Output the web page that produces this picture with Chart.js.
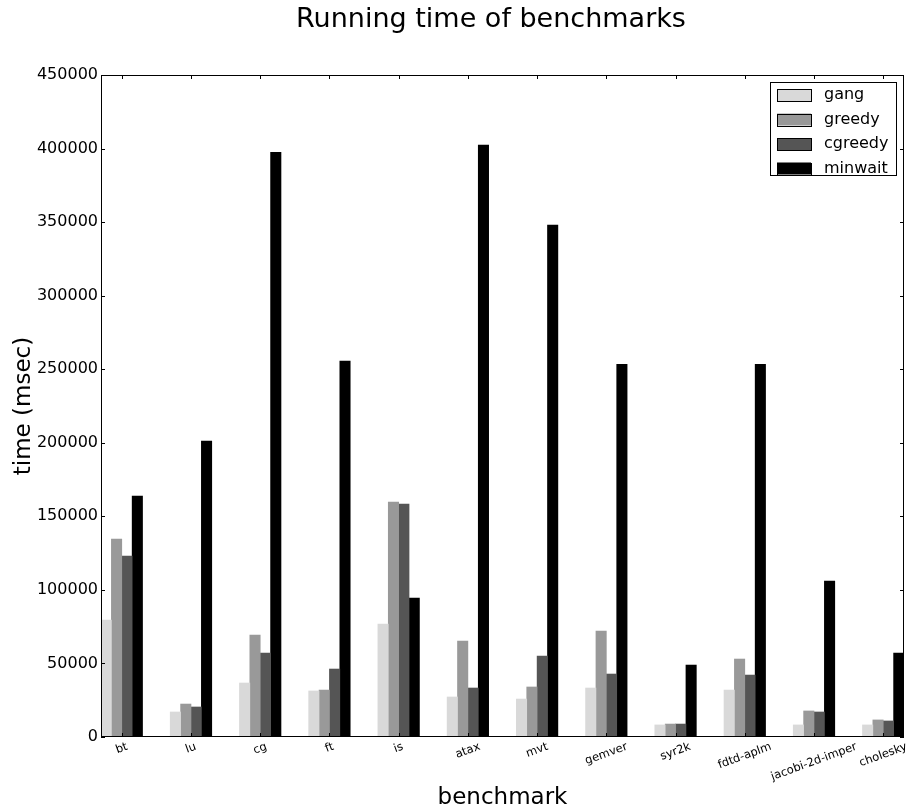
<!DOCTYPE html>
<html>
<head>
<meta charset="utf-8">
<title>Running time of benchmarks</title>
<script src="https://cdn.jsdelivr.net/npm/chart.js@4.4.1/dist/chart.umd.min.js"></script>
<style>
    html, body { margin: 0; padding: 0; background: #fff; }
    canvas { display: block; }
</style>
</head>
<body>
<canvas id="runtime-chart" width="907" height="810"></canvas>
<script>
const benchmarks = ['bt', 'lu', 'cg', 'ft', 'is', 'atax', 'mvt', 'gemver', 'syr2k', 'fdtd-aplm', 'jacobi-2d-imper', 'cholesky'];

// running time in msec per scheduler
const gang    = [79500, 17000, 36700, 31300, 76800, 27200, 25800, 33300, 8200, 31900, 8200, 8200];
const greedy  = [134500, 22400, 69300, 31900, 159700, 65200, 34000, 72000, 8800, 53000, 17700, 11600];
const cgreedy = [123000, 20400, 57100, 46200, 158300, 33300, 55000, 42800, 8800, 42100, 17000, 10900];
const minwait = [163800, 201100, 397500, 255500, 94400, 402300, 347900, 253400, 48900, 253400, 106000, 57100];

const seriesNames = ['gang', 'greedy', 'cgreedy', 'minwait'];
const seriesColors = ['#d9d9d9', '#999999', '#555555', '#000000'];
const yTicks = [0, 50000, 100000, 150000, 200000, 250000, 300000, 350000, 400000, 450000];

const FONT = "'DejaVu Sans', 'Liberation Sans', sans-serif";
const BAR_W = 0.15;                  // bar width in x units, 4 bars per benchmark
const GROUP_MID = BAR_W * 2;         // tick sits in the middle of the group
const X_MAX = benchmarks.length - 1 + BAR_W * 4;

const allSeries = [gang, greedy, cgreedy, minwait];

const datasets = allSeries.map((values, k) => ({
    label: seriesNames[k],
    data: values.map((v, i) => ({ x: i + BAR_W * (k + 0.5), y: v })),
    backgroundColor: seriesColors[k],
    borderWidth: 0,
    barPercentage: 1,
    categoryPercentage: 1,
    grouped: false
}));

// frame, inward ticks, rotated benchmark names, title and legend box
const decorations = {
    id: 'decorations',
    afterDraw(chart) {
        const { ctx, chartArea: a, scales: { x, y } } = chart;
        ctx.save();

        ctx.strokeStyle = '#000';
        ctx.lineWidth = 1;
        ctx.strokeRect(Math.round(a.left) + 0.5, Math.round(a.top) + 0.5,
            Math.round(a.right - a.left) - 1, Math.round(a.bottom - a.top) - 1);

        ctx.beginPath();
        x.ticks.forEach(t => {
            const px = Math.round(x.getPixelForValue(t.value)) + 0.5;
            ctx.moveTo(px, a.bottom); ctx.lineTo(px, a.bottom - 4);
            ctx.moveTo(px, a.top); ctx.lineTo(px, a.top + 4);
        });
        yTicks.forEach(v => {
            const py = Math.round(y.getPixelForValue(v)) + 0.5;
            ctx.moveTo(a.left, py); ctx.lineTo(a.left + 4, py);
            ctx.moveTo(a.right, py); ctx.lineTo(a.right - 4, py);
        });
        ctx.stroke();

        // benchmark names, rotated 20 degrees and centred under each tick
        const rot = 20 * Math.PI / 180;
        const fs = 11.5;
        ctx.fillStyle = '#000';
        ctx.font = fs + 'px ' + FONT;
        ctx.textAlign = 'center';
        ctx.textBaseline = 'middle';
        benchmarks.forEach((name, i) => {
            const px = x.getPixelForValue(i + GROUP_MID);
            const w = ctx.measureText(name).width;
            const boxH = w * Math.sin(rot) + fs * Math.cos(rot);
            ctx.save();
            ctx.translate(px, a.bottom + 4 + boxH / 2);
            ctx.rotate(-rot);
            ctx.fillText(name, 0, 0);
            ctx.restore();
        });

        ctx.font = '27px ' + FONT;
        ctx.fillText('Running time of benchmarks', 491, 20);

        // legend
        const lx = a.right - 134, ly = a.top + 7;
        ctx.fillStyle = '#fff';
        ctx.fillRect(lx, ly, 126, 93);
        ctx.strokeRect(Math.round(lx) + 0.5, Math.round(ly) + 0.5, 126, 93);
        ctx.font = '16px ' + FONT;
        ctx.textAlign = 'left';
        seriesNames.forEach((name, k) => {
            const cy = ly + 13 + k * 24.5;
            ctx.fillStyle = seriesColors[k];
            ctx.fillRect(lx + 7, cy - 6, 34, 12);
            ctx.strokeRect(Math.round(lx + 7) + 0.5, Math.round(cy - 6) + 0.5, 34, 12);
            ctx.fillStyle = '#000';
            ctx.fillText(name, lx + 54, cy);
        });

        ctx.restore();
    }
};

new Chart(document.getElementById('runtime-chart'), {
    type: 'bar',
    data: { datasets: datasets },
    options: {
        responsive: false,
        animation: false,
        devicePixelRatio: 1,
        layout: { padding: { top: 75, right: 3, left: 0, bottom: 0 } },
        plugins: {
            legend: { display: false },
            tooltip: { enabled: false },
            title: { display: false }
        },
        scales: {
            x: {
                type: 'linear',
                min: 0,
                max: X_MAX,
                offset: false,
                grid: { display: false, drawTicks: false },
                border: { display: false },
                ticks: { display: false },
                afterBuildTicks: s => { s.ticks = benchmarks.map((_, i) => ({ value: i + GROUP_MID })); },
                afterFit: s => { s.height = 73; },
                title: {
                    display: true,
                    text: 'benchmark',
                    color: '#000',
                    font: { family: FONT, size: 23, lineHeight: 1 },
                    padding: { top: 0, bottom: 0 }
                }
            },
            y: {
                min: 0,
                max: 450000,
                grid: { display: false, drawTicks: false },
                border: { display: false },
                afterBuildTicks: s => { s.ticks = yTicks.map(v => ({ value: v })); },
                afterFit: s => { s.width = 101; },
                ticks: {
                    color: '#000',
                    padding: 3,
                    font: { family: FONT, size: 16 },
                    callback: v => String(v)
                },
                title: {
                    display: true,
                    text: 'time (msec)',
                    color: '#000',
                    font: { family: FONT, size: 23, lineHeight: 1 },
                    padding: { top: 13, bottom: 0 }
                }
            }
        }
    },
    plugins: [decorations]
});
</script>
</body>
</html>
